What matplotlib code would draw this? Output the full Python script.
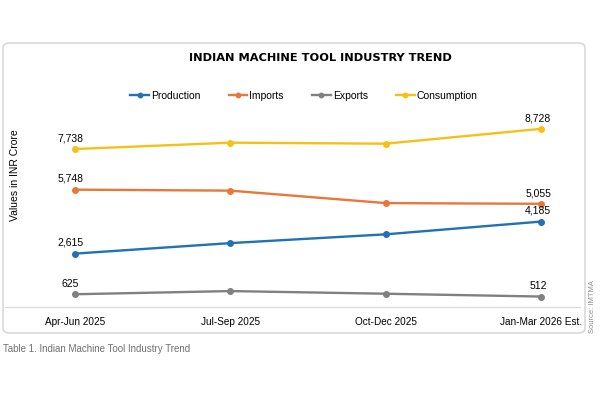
import matplotlib.pyplot as plt
from matplotlib.patches import FancyBboxPatch

quarters = ['Apr-Jun 2025', 'Jul-Sep 2025', 'Oct-Dec 2025', 'Jan-Mar 2026 Est.']
production = [2615, 3130, 3560, 4185]
imports = [5748, 5700, 5090, 5055]
exports = [625, 780, 650, 512]
consumption = [7738, 8050, 8000, 8728]

series = [
    ('Production', production, '#2271b3'),
    ('Imports', imports, '#e8773a'),
    ('Exports', exports, '#808080'),
    ('Consumption', consumption, '#f5c116'),
]

plt.rcParams['font.family'] = ['Liberation Sans', 'DejaVu Sans']

fig = plt.figure(figsize=(6, 4), dpi=100)
fig.patch.set_facecolor('white')

# outer chart frame
frame = FancyBboxPatch((3 / 600, 1 - 333 / 400), 582 / 600, 290 / 400,
                       boxstyle='round,pad=0,rounding_size=0.012',
                       transform=fig.transFigure, facecolor='white',
                       edgecolor='#d9d9d9', linewidth=1.2, zorder=-5)
fig.patches.append(frame)

ax = fig.add_axes([5 / 600, 1 - 307 / 400, 575 / 600, 197 / 400])
ax.set_facecolor('none')
ax.set_zorder(2)
xs = list(range(len(quarters)))

for name, vals, col in series:
    ax.plot(xs, vals, color=col, lw=1.7, marker='o', ms=4, label=name)
    ax.text(xs[0] - 0.03, vals[0] + 280, f'{vals[0]:,}', ha='center', va='bottom', fontsize=7.5)
    ax.text(xs[-1] - 0.02, vals[-1] + 280, f'{vals[-1]:,}', ha='center', va='bottom', fontsize=7.5)

ax.set_xlim(-0.45, 3.25)
ax.set_ylim(0, 9650)
ax.set_yticks([])
ax.set_xticks(xs)
ax.set_xticklabels(quarters, fontsize=7.2)
ax.tick_params(axis='x', length=0, pad=7)
for s in ['top', 'right', 'left']:
    ax.spines[s].set_visible(False)
ax.spines['bottom'].set_color('#d9d9d9')

fig.text(15 / 600, 1 - 175 / 400, 'Values in INR Crore', rotation=90,
         ha='center', va='center', fontsize=7.5)
fig.text(320 / 600, 1 - 58 / 400, 'INDIAN MACHINE TOOL INDUSTRY TREND',
         ha='center', va='center', fontsize=8.2, fontweight='bold',
         family='DejaVu Sans')

fig.legend(loc='center', bbox_to_anchor=(304 / 600, 1 - 96 / 400), ncol=4,
           frameon=False, fontsize=7.5, handlelength=1.8, handletextpad=0.2,
           columnspacing=2.7, markerscale=0.8)

fig.text(3 / 600, 1 - 349 / 400, 'Table 1. Indian Machine Tool Industry Trend',
         ha='left', va='center', fontsize=7, color='#707070',
         family=['Liberation Sans Narrow', 'Liberation Sans'])
fig.text(593 / 600, 1 - 333 / 400, 'Source: IMTMA', rotation=90,
         ha='center', va='bottom', fontsize=5.5, color='#909090')

fig.savefig('out.png', dpi=100)
